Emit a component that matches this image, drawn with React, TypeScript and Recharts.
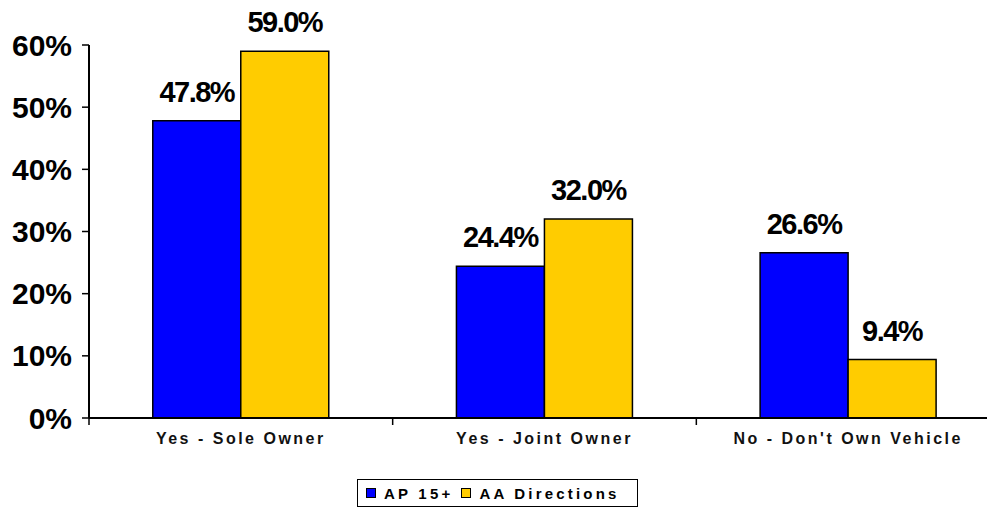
import { BarChart, Bar, XAxis, YAxis, LabelList } from 'recharts';

const CATEGORIES = ['Yes - Sole Owner', 'Yes - Joint Owner', "No - Don't Own Vehicle"];
const AP_15 = [47.8, 24.4, 26.6];
const AA_DIRECTIONS = [59.0, 32.0, 9.4];
const Y_TICKS = [0, 10, 20, 30, 40, 50, 60];

const SERIES = [
  { key: 'ap', name: 'AP 15+', color: '#0000FF' },
  { key: 'aa', name: 'AA Directions', color: '#FFCC00' },
];

const FONT = '"Liberation Sans", Arial, Helvetica, sans-serif';
const X_TICK_SIZE = 7;
const X_TICK_MARGIN = 8;

const data = CATEGORIES.map((name, i) => ({ name, ap: AP_15[i], aa: AA_DIRECTIONS[i] }));

function CategoryTick(props: any) {
  const { x, y, payload, index, visibleTicksCount, width } = props;
  const half = payload?.offset > 0 ? payload.offset : width / visibleTicksCount / 2;
  const axisY = y - X_TICK_SIZE - X_TICK_MARGIN;
  return (
    <g>
      <line x1={x - half} x2={x - half} y1={axisY} y2={axisY + X_TICK_SIZE} stroke="#000" strokeWidth={1.5} />
      {index === visibleTicksCount - 1 && (
        <line x1={x + half} x2={x + half} y1={axisY} y2={axisY + X_TICK_SIZE} stroke="#000" strokeWidth={1.5} />
      )}
      <text
        x={x}
        y={y}
        dy="0.71em"
        textAnchor="middle"
        fontFamily={FONT}
        fontSize={16}
        fontWeight="bold"
        letterSpacing={2.5}
        fill="#111"
      >
        {payload.value}
      </text>
    </g>
  );
}

function LegendBox() {
  return (
    <div
      style={{
        position: 'absolute',
        left: 357,
        top: 479,
        width: 281,
        height: 28,
        boxSizing: 'border-box',
        border: '1.5px solid #000',
        display: 'flex',
        alignItems: 'center',
        paddingLeft: 8,
        fontFamily: FONT,
        fontSize: 15,
        fontWeight: 'bold',
        letterSpacing: 3.2,
        color: '#000',
      }}
    >
      {SERIES.map((s) => (
        <span key={s.key} style={{ display: 'flex', alignItems: 'center', marginRight: 8 }}>
          <span
            style={{
              display: 'inline-block',
              width: 10,
              height: 10,
              boxSizing: 'border-box',
              background: s.color,
              border: '1px solid #000',
              marginRight: 8,
            }}
          />
          {s.name}
        </span>
      ))}
    </div>
  );
}

export default function App() {
  return (
    <div
      style={{
        position: 'fixed',
        left: 0,
        top: 0,
        width: 987,
        height: 511,
        overflow: 'hidden',
        background: '#fff',
      }}
    >
      <BarChart
        width={1000}
        height={511}
        data={data}
        margin={{ top: 45, right: 0, left: 0, bottom: 53 }}
        barCategoryGap="21%"
        barGap={0}
      >
        <XAxis
          dataKey="name"
          height={40}
          axisLine={{ stroke: '#000', strokeWidth: 2 }}
          tickLine={false}
          tickSize={X_TICK_SIZE}
          tickMargin={X_TICK_MARGIN}
          tick={<CategoryTick />}
          interval={0}
        />
        <YAxis
          width={89}
          domain={[0, 60]}
          ticks={Y_TICKS}
          tickFormatter={(v: number) => `${v}%`}
          axisLine={{ stroke: '#000', strokeWidth: 2 }}
          tickLine={{ stroke: '#000', strokeWidth: 1.5 }}
          tickSize={7}
          tickMargin={10}
          tick={{ fill: '#000', fontSize: 30, fontWeight: 'bold', fontFamily: FONT }}
        />
        {SERIES.map((s) => (
          <Bar
            key={s.key}
            dataKey={s.key}
            name={s.name}
            fill={s.color}
            stroke="#000"
            strokeWidth={1.5}
            isAnimationActive={false}
          >
            <LabelList
              dataKey={s.key}
              position="top"
              offset={19}
              formatter={(v: any) => `${Number(v).toFixed(1)}%`}
              style={{ fill: '#000', fontSize: 29, fontWeight: 'bold', fontFamily: FONT, letterSpacing: -1.5 }}
            />
          </Bar>
        ))}
      </BarChart>
      <LegendBox />
    </div>
  );
}
